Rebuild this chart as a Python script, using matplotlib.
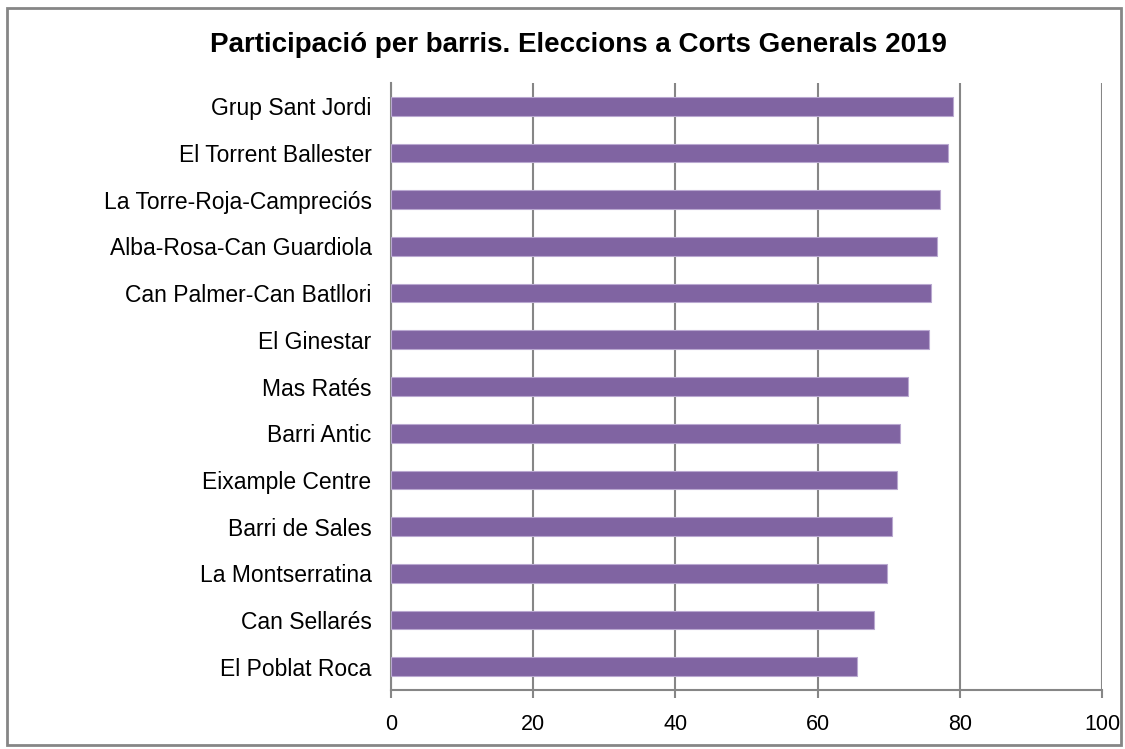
import matplotlib.pyplot as plt
from matplotlib.patches import Rectangle

plt.rcParams['font.family'] = ['Liberation Sans', 'DejaVu Sans']

barris = ['Grup Sant Jordi', 'El Torrent Ballester', 'La Torre-Roja-Campreciós',
          'Alba-Rosa-Can Guardiola', 'Can Palmer-Can Batllori', 'El Ginestar',
          'Mas Ratés', 'Barri Antic', 'Eixample Centre', 'Barri de Sales',
          'La Montserratina', 'Can Sellarés', 'El Poblat Roca']
participacio = [79.0, 78.3, 77.2, 76.8, 76.0, 75.6, 72.7, 71.6, 71.2, 70.5,
                69.7, 67.9, 65.6]
ticks = [0, 20, 40, 60, 80, 100]

fig = plt.figure(figsize=(11.25, 7.49), dpi=100)
ax = fig.add_axes([391 / 1125, 1 - 690 / 749, (1102 - 391) / 1125, (690 - 83) / 749])

# outer chart frame
fig.patches.append(Rectangle((7 / 1125, 4 / 749), 1114 / 1125, 737 / 749,
                             transform=fig.transFigure, fill=False,
                             edgecolor='#868686', linewidth=2))

y = list(range(len(barris)))[::-1]
ax.barh(y, participacio, height=0.4, color='#8064A2', edgecolor='#B9A8D0',
        linewidth=0.8, zorder=3)

ax.set_xlim(0, 100)
ax.set_ylim(-0.5, len(barris) - 0.5)
ax.set_xticks(ticks)
ax.set_yticks(y)
ax.set_yticklabels(barris)
ax.grid(axis='x', color='#868686', linewidth=1.5, zorder=0)
for s in ['top', 'right']:
    ax.spines[s].set_visible(False)
ax.spines['left'].set_color('#868686')
ax.spines['bottom'].set_color('#868686')
ax.spines['left'].set_linewidth(1.5)
ax.spines['bottom'].set_linewidth(1.5)
ax.tick_params(axis='x', direction='out', length=6, width=1.5, color='#868686',
               labelsize=15.5, pad=11)
ax.tick_params(axis='y', length=0, labelsize=16.5, pad=14)

fig.text(578 / 1125, 1 - 45 / 749, 'Participació per barris. Eleccions a Corts Generals 2019',
         ha='center', va='center', fontsize=20, fontweight='bold')

fig.savefig('out.png', dpi=100)
